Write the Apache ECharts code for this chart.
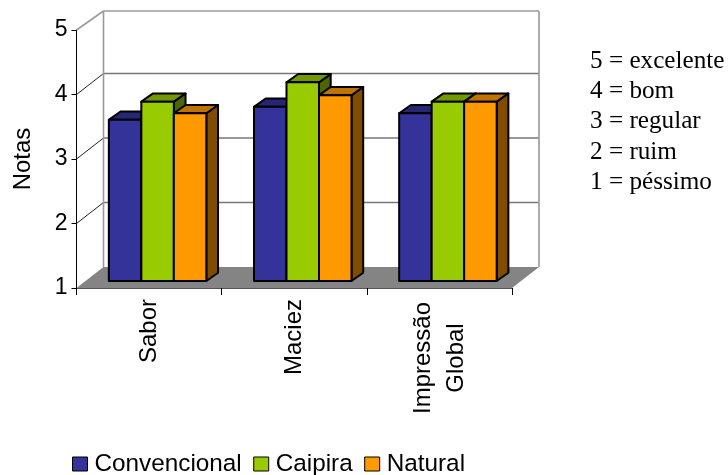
<!DOCTYPE html>
<html>
<head>
<meta charset="utf-8">
<style>
html,body{margin:0;padding:0;background:#fff}
#c{width:728px;height:475px}
#notes{position:absolute;left:590px;top:45px;font-family:"Liberation Serif",serif;font-size:25.2px;line-height:30.2px;color:#000;white-space:nowrap}
</style>
<script src="https://cdn.jsdelivr.net/npm/echarts@6/dist/echarts.min.js"></script>
</head>
<body>
<div id="c"></div>
<div id="notes"></div>
<script>
const categories = ['Sabor', 'Maciez', 'Impressão\nGlobal'];
const convencional = [3.5, 3.7, 3.6];
const caipira = [3.78, 4.08, 3.78];
const natural = [3.6, 3.88, 3.78];
const yTicks = [1, 2, 3, 4, 5];
const scaleNotes = ['5 = excelente', '4 = bom', '3 = regular', '2 = ruim', '1 = péssimo'];

document.getElementById('notes').innerHTML = scaleNotes.join('<br>');

const DEPTH_X = 27, DEPTH_Y = -21;     // full depth of the box
const BAR_OFF_X = 8.5, BAR_OFF_Y = -7; // bar front plane inside the box
const BAR_W = 32.5, BAR_DX = 11.7, BAR_DY = -8.3;
const FONT = '"Liberation Sans", Arial, sans-serif';

function poly(points, fill, stroke, lw) {
  return {type: 'polygon', shape: {points: points},
    style: {fill: fill, stroke: stroke || 'none', lineWidth: lw || 0, lineJoin: 'round'}};
}
function line(a, b, stroke, lw) {
  return {type: 'line', shape: {x1: a[0], y1: a[1], x2: b[0], y2: b[1]},
    style: {stroke: stroke, lineWidth: lw, fill: 'none'}};
}

function renderFrame(params, api) {
  const cs = params.coordSys;
  const L = cs.x, R = cs.x + cs.width;
  const yOf = v => api.coord([0, v])[1];
  const y1 = yOf(yTicks[0]), y5 = yOf(yTicks[yTicks.length - 1]);
  const kids = [];
  kids.push(poly([[L, y1], [R, y1], [R + DEPTH_X, y1 + DEPTH_Y], [L + DEPTH_X, y1 + DEPTH_Y]], '#848484'));
  yTicks.forEach(v => {
    if (v === yTicks[0] || v === yTicks[yTicks.length - 1]) return;
    const y = yOf(v);
    kids.push(line([L, y], [L + DEPTH_X, y + DEPTH_Y], '#222', 1));
    kids.push(line([L + DEPTH_X, y + DEPTH_Y], [R + DEPTH_X, y + DEPTH_Y], '#777', 1.3));
  });
  const top = y5 + DEPTH_Y + 2;
  const bot = y1 + DEPTH_Y;
  kids.push(line([L, y5], [L + DEPTH_X, top], '#999', 1.6));
  kids.push(line([L + DEPTH_X, top], [R + DEPTH_X, top], '#999', 1.6));
  kids.push(line([L + DEPTH_X, top], [L + DEPTH_X, bot], '#999', 1.6));
  kids.push(line([R + DEPTH_X, top], [R + DEPTH_X, bot], '#999', 1.6));
  return {type: 'group', children: kids};
}

function makeBarRender(seriesIndex, front, topC, sideC) {
  return function (params, api) {
    const base = api.coord([api.value(0), yTicks[0]]);
    const top = api.coord([api.value(0), api.value(1)]);
    const x0 = base[0] + BAR_OFF_X - 1.5 * BAR_W + seriesIndex * BAR_W;
    const x1 = x0 + BAR_W;
    const yb = base[1] + BAR_OFF_Y;
    const yt = top[1] + BAR_OFF_Y;
    const S = '#000', W = 2;
    return {type: 'group', children: [
      poly([[x1, yb], [x1 + BAR_DX, yb + BAR_DY], [x1 + BAR_DX, yt + BAR_DY], [x1, yt]], sideC, S, W),
      poly([[x0, yt], [x0 + BAR_DX, yt + BAR_DY], [x1 + BAR_DX, yt + BAR_DY], [x1, yt]], topC, S, W),
      poly([[x0, yb], [x1, yb], [x1, yt], [x0, yt]], front, S, W)
    ]};
  };
}

const barDefs = [
  {name: 'Convencional', data: convencional, front: '#333399', top: '#262673', side: '#1a1a4d'},
  {name: 'Caipira', data: caipira, front: '#99CC00', top: '#739900', side: '#4d6600'},
  {name: 'Natural', data: natural, front: '#FF9900', top: '#BF7300', side: '#804D00'}
];

const series = [{
  type: 'custom', name: 'frame', silent: true, z: 1,
  data: [[0, yTicks[0]]], renderItem: renderFrame, encode: {x: 0, y: 1}
}].concat(barDefs.map((d, i) => ({
  type: 'custom', name: d.name, z: 2 + i,
  itemStyle: {color: d.front},
  data: d.data.map((v, k) => [k, v]),
  encode: {x: 0, y: 1},
  renderItem: makeBarRender(i, d.front, d.top, d.side)
})));

const chart = echarts.init(document.getElementById('c'), null, {renderer: 'canvas'});
chart.setOption({
  animation: false,
  backgroundColor: '#fff',
  grid: {left: 76.5, top: 30, width: 435.5, height: 258, containLabel: false, outerBoundsMode: 'none'},
  legend: {
    left: 67, top: 447, itemGap: 11.5, itemWidth: 15, itemHeight: 14, selectedMode: false,
    textStyle: {fontFamily: FONT, fontSize: 24.3, color: '#000', padding: [0, 0, 0, 2]},
    data: barDefs.map(d => ({name: d.name, icon: 'rect',
      itemStyle: {color: d.front, borderColor: '#000', borderWidth: 1}}))
  },
  xAxis: {
    type: 'category', data: categories,
    axisLine: {lineStyle: {color: '#555', width: 1.2}},
    axisTick: {show: true, length: 7, lineStyle: {color: '#000', width: 1}},
    axisLabel: {
      rotate: 90, margin: 11, interval: 0, color: '#000',
      fontFamily: FONT, fontSize: 24,
      formatter: v => v.indexOf('\n') < 0 ? v : v.split('\n').map(s => '{c|' + s + '}').join('\n'),
      rich: {c: {width: 118, align: 'center', fontFamily: FONT, fontSize: 24, lineHeight: 33}}
    }
  },
  yAxis: {
    type: 'value', min: 1, max: 5, interval: 1,
    name: 'Notas', nameLocation: 'middle', nameGap: 41, nameRotate: 90,
    nameTextStyle: {fontFamily: FONT, fontSize: 24, color: '#000'},
    axisLine: {show: true, lineStyle: {color: '#000', width: 1}},
    axisTick: {show: true, length: 5, lineStyle: {color: '#000', width: 1}},
    axisLabel: {margin: 9, color: '#000', fontFamily: FONT, fontSize: 23},
    splitLine: {show: false}
  },
  series: series
});
</script>
</body>
</html>
